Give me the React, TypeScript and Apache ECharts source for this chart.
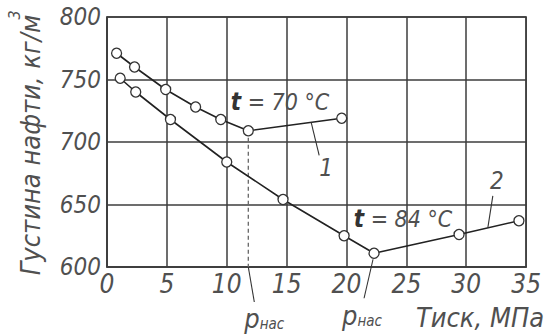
import React, { useEffect, useRef } from "react";
import * as echarts from "echarts";

const pressure70 = [0.8, 2.3, 4.9, 7.4, 9.5, 11.8, 19.6];
const density70 = [771, 760, 742, 728, 718, 709, 719];
const pressure84 = [1.1, 2.4, 5.3, 10.0, 14.7, 19.8, 22.3, 29.4, 34.4];
const density84 = [751, 740, 718, 684, 654, 625, 611, 626, 637];
const saturation70 = 11.8;
const saturation84 = 22.3;
const xTicks = [0, 5, 10, 15, 20, 25, 30, 35];
const yTicks = [600, 650, 700, 750, 800];

const FONT = '"Liberation Sans Narrow", "DejaVu Sans Condensed", sans-serif';
const TXT = "#505050";
const GRID = "#3c3c3c";

export default function App() {
  const ref = useRef<HTMLDivElement>(null);
  useEffect(() => {
    if (!ref.current) return;
    const chart = echarts.init(ref.current, null, { renderer: "svg" });
    const s70 = pressure70.map((p, i) => [p, density70[i]]);
    const s84 = pressure84.map((p, i) => [p, density84[i]]);
    const i70 = pressure70.indexOf(saturation70);
    const i84 = pressure84.indexOf(saturation84);
    const markerStyle = { color: "#fff", borderColor: "#333", borderWidth: 1.3 };
    chart.setOption({
      animation: false,
      grid: {
        left: 107, top: 17, right: 8, bottom: 69,
        show: true, borderColor: GRID, borderWidth: 1.5,
      },
      xAxis: {
        type: "value",
        min: xTicks[0], max: xTicks[xTicks.length - 1], interval: 5,
        axisLine: { show: true, lineStyle: { color: GRID, width: 1.5 } },
        axisTick: { show: false },
        splitLine: { show: true, lineStyle: { color: GRID, width: 1.5 } },
        axisLabel: {
          margin: 4, color: TXT, fontSize: 26, fontStyle: "italic", fontFamily: FONT,
          showMinLabel: true, showMaxLabel: true,
        },
      },
      yAxis: {
        type: "value",
        min: yTicks[0], max: yTicks[yTicks.length - 1], interval: 50,
        axisLine: { show: true, lineStyle: { color: GRID, width: 1.5 } },
        axisTick: { show: false },
        splitLine: { show: true, lineStyle: { color: GRID, width: 1.5 } },
        axisLabel: {
          margin: 6, color: TXT, fontSize: 24, fontStyle: "italic", fontFamily: FONT,
        },
      },
      series: [
        {
          type: "line",
          data: [s70[i70], [saturation70, yTicks[0]]],
          symbol: "none",
          lineStyle: { color: "#666", width: 1.3, type: [4, 3] },
          z: 1,
        },
        {
          type: "line", data: s70, symbol: "circle", symbolSize: 10,
          itemStyle: markerStyle,
          lineStyle: { color: "#222", width: 1.6 }, z: 3,
        },
        {
          type: "line", data: s84, symbol: "circle", symbolSize: 10,
          itemStyle: markerStyle,
          lineStyle: { color: "#222", width: 1.6 }, z: 3,
        },
      ],
    });

    const px = (x: number, y: number) => chart.convertToPixel({ gridIndex: 0 }, [x, y]) as number[];
    const a1 = px(17.05, 715.7);
    const a2 = px(31.8, 631.3);
    const sat1 = px(saturation70, yTicks[0]);
    const sat2 = px(saturation84, density84[i84]);
    const lineSt = { stroke: "#333", lineWidth: 1.1 };
    const txt = (x: number, y: number, text: string, size: number, extra: any = {}) => ({
      type: "text", x, y, z: 10,
      style: {
        text, fill: TXT, fontSize: size, fontStyle: "italic", fontFamily: FONT,
        align: "center", verticalAlign: "middle", ...extra,
      },
    });
    const psat = (x: number, y: number) => ({
      type: "text", x, y, z: 10,
      style: {
        text: "{p|p}{s|нас}", align: "center", verticalAlign: "middle",
        fill: TXT, fontFamily: FONT, fontStyle: "italic",
        rich: {
          p: { fontSize: 27, fill: TXT, fontFamily: FONT, fontStyle: "italic", verticalAlign: "bottom" },
          s: { fontSize: 15, fill: TXT, fontFamily: FONT, fontStyle: "italic", verticalAlign: "bottom" },
        },
      },
    });
    const tempLabel = (x: number, y: number, t: string) => ({
      type: "text", x, y, z: 10,
      style: {
        text: "{b|t} = " + t, align: "center", verticalAlign: "middle",
        fill: TXT, fontSize: 23, fontStyle: "italic", fontFamily: FONT,
        rich: {
          b: { fontSize: 24, fontWeight: "bold", fill: "#333", fontStyle: "italic", fontFamily: FONT },
        },
      },
    });
    chart.setOption({
      graphic: [
        {
          type: "text", x: 30, y: 145, rotation: Math.PI / 2, z: 10,
          style: {
            text: "Густина нафти, кг/м", fill: TXT, fontSize: 27, fontStyle: "italic",
            fontFamily: FONT, align: "center", verticalAlign: "middle",
          },
        },
        {
          type: "text", x: 14, y: 15, rotation: Math.PI / 2, z: 10,
          style: {
            text: "3", fill: TXT, fontSize: 16, fontStyle: "italic",
            fontFamily: FONT, align: "center", verticalAlign: "middle",
          },
        },
        txt(480, 317, "Тиск, МПа", 27),
        tempLabel(280, 102, "70 °C"),
        tempLabel(403, 219, "84 °C"),
        { type: "line", z: 9, shape: { x1: a1[0], y1: a1[1], x2: a1[0] + 8, y2: a1[1] + 33 }, style: lineSt },
        txt(a1[0] + 15, a1[1] + 46, "1", 24),
        { type: "line", z: 9, shape: { x1: a2[0], y1: a2[1], x2: a2[0] + 5, y2: a2[1] - 32 }, style: lineSt },
        txt(a2[0] + 9, a2[1] - 47, "2", 24),
        { type: "line", z: 9, shape: { x1: sat1[0], y1: sat1[1], x2: sat1[0] + 6, y2: sat1[1] + 35 }, style: lineSt },
        psat(sat1[0] + 16, sat1[1] + 51),
        { type: "line", z: 9, shape: { x1: sat2[0] - 1, y1: sat2[1] + 6, x2: sat2[0] - 10, y2: sat2[1] + 45 }, style: lineSt },
        psat(sat2[0] - 12, sat2[1] + 62),
      ],
    });
    return () => chart.dispose();
  }, []);
  return <div ref={ref} style={{ width: 544, height: 336, position: "absolute", left: 0, top: 0 }} />;
}
